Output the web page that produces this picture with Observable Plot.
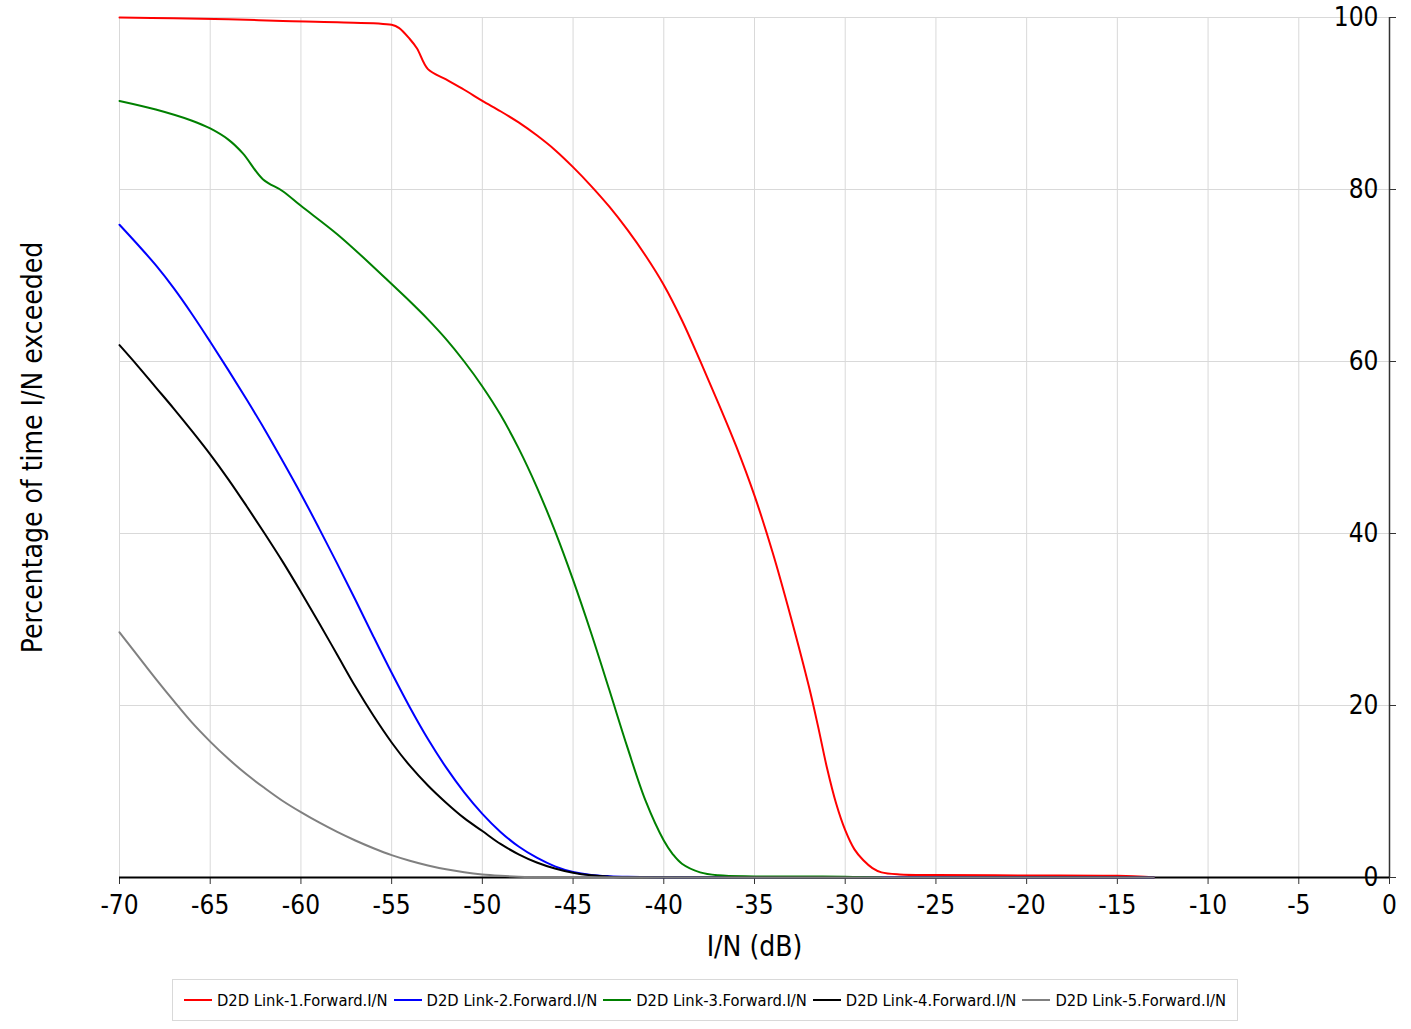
<!DOCTYPE html>
<html>
<head>
<meta charset="utf-8">
<script src="https://cdn.jsdelivr.net/npm/d3@7"></script>
<script src="https://cdn.jsdelivr.net/npm/@observablehq/plot@0.6"></script>
<style>
  body { margin: 0; background: #fff; }
  #chart svg { display: block; }
  .legend {
    margin-left: 172px; width: 1064px; height: 40px; margin-top: 4px;
    border: 1px solid #d9d9d9; display: flex; align-items: center; justify-content: center;
    font-family: "DejaVu Sans Condensed", "DejaVu Sans", sans-serif; font-size: 16.4px; color: #000;
  }
  .legend .item { display: flex; align-items: center; margin: 0 3px; }
  .legend .sw { width: 28px; height: 2px; margin-right: 5px; }
</style>
</head>
<body>
<div id="chart"></div>
<div class="legend" id="legend"></div>
<script>
// ---- data ----
const seriesNames = ["D2D Link-1.Forward.I/N", "D2D Link-2.Forward.I/N", "D2D Link-3.Forward.I/N", "D2D Link-4.Forward.I/N", "D2D Link-5.Forward.I/N"];
const seriesColors = ["#ff0000", "#0000ff", "#008000", "#000000", "#808080"];

const link1X = [-70,-67,-64,-61,-58,-55,-54.6,-54,-53.6,-53,-52,-51,-50,-49,-48,-47,-46,-45,-44,-43,-42,-41,-40,-39,-38,-37,-36,-35,-34,-33,-32,-31.5,-31,-30.5,-30,-29.5,-29,-28.5,-28,-27,-25,-20,-15,-13.5,-13];
const link1Y = [100,99.9,99.8,99.6,99.45,99.15,98.8,97.5,96.4,94.0,92.8,91.6,90.3,89.1,87.8,86.3,84.6,82.6,80.4,78,75.3,72.3,68.9,64.8,60.1,55.2,50.1,44.4,37.8,30.3,22.2,17.6,12.7,8.6,5.5,3.3,2,1.1,0.6,0.35,0.28,0.24,0.2,0.1,0];

const link2X = [-70,-69,-68,-67,-66,-65,-64,-63,-62,-61,-60,-59,-58,-57,-56,-55,-54,-53,-52,-51,-50,-49,-48,-47,-46,-45,-44,-43,-42,-40,-30,-13];
const link2Y = [75.9,73.6,71.2,68.5,65.5,62.3,59,55.6,52.1,48.4,44.6,40.6,36.5,32.3,28,23.8,19.8,16.1,12.8,9.9,7.4,5.3,3.6,2.3,1.3,0.65,0.3,0.15,0.08,0.04,0.02,0];

const link3X = [-70,-68,-66,-65,-64,-63.2,-62.1,-61,-60,-58,-56,-55,-54,-53,-52,-51,-50,-49,-48,-47,-46,-45,-44,-43,-42,-41,-40,-39.5,-39,-38,-37,-35,-30,-28];
const link3Y = [90.3,89.3,88,87.1,85.8,84.2,81.2,79.8,78.1,74.8,71,69,67,64.9,62.6,60,57.1,53.8,49.9,45.4,40.3,34.6,28.4,21.8,15.1,8.9,4.3,2.7,1.6,0.6,0.25,0.12,0.1,0];

const link4X = [-70,-69,-68,-67,-66,-65,-64,-63,-62,-61,-60,-59,-58,-57,-56,-55,-54,-53,-52,-51,-50,-49,-48,-47,-46,-45,-44,-43,-42,-13];
const link4Y = [61.9,59.5,57,54.5,51.9,49.2,46.3,43.2,40,36.7,33.2,29.6,25.9,22.2,18.8,15.7,13,10.7,8.7,6.9,5.4,3.9,2.7,1.75,1.05,0.55,0.25,0.1,0.04,0];

const link5X = [-70,-69,-68,-67,-66,-65,-64,-63,-62,-61,-60,-59,-58,-57,-56,-55,-54,-53,-52,-51,-50,-49,-48,-46,-13];
const link5Y = [28.5,25.8,23.1,20.5,18,15.8,13.8,12,10.4,8.9,7.6,6.4,5.3,4.3,3.4,2.6,1.95,1.4,0.95,0.6,0.35,0.2,0.1,0.04,0];

const xTicks = [-70,-65,-60,-55,-50,-45,-40,-35,-30,-25,-20,-15,-10,-5,0];
const yTicks = [0,20,40,60,80,100];
const xTitle = "I/N (dB)";
const yTitle = "Percentage of time I/N exceeded";

// ---- build ----
const allX = [link1X, link2X, link3X, link4X, link5X];
const allY = [link1Y, link2Y, link3Y, link4Y, link5Y];
const series = allX.map((xs, i) => xs.map((x, j) => ({x, y: allY[i][j], s: seriesNames[i]})));

const font = '"DejaVu Sans Condensed", "DejaVu Sans", sans-serif';

const chart = Plot.plot({
  width: 1411,
  height: 975,
  marginLeft: 119,
  marginRight: 22,
  marginTop: 17,
  marginBottom: 98,
  style: {fontFamily: font, fontSize: "26px", color: "#000", background: "#fff"},
  x: {domain: [-70, 0]},
  y: {domain: [0, 100]},
  marks: [
    Plot.gridX(xTicks, {stroke: "#d9d9d9", strokeOpacity: 1, strokeWidth: 1}),
    Plot.gridY(yTicks, {stroke: "#d9d9d9", strokeOpacity: 1, strokeWidth: 1}),
    Plot.axisX({ticks: xTicks, tickSize: 7, tickPadding: 11, tickFormat: d => `${d}`, label: null, stroke: "#333"}),
    Plot.axisY({anchor: "right", ticks: yTicks, tickSize: 6, tickPadding: -17, textAnchor: "end", tickFormat: d => `${d}`, label: null, stroke: "#333"}),
    Plot.ruleX([0], {stroke: "#333", strokeWidth: 1.5}),
    Plot.ruleY([0], {stroke: "#000", strokeWidth: 2}),
    ...series.map((d, i) => Plot.line(d, {x: "x", y: "y", stroke: seriesColors[i], strokeWidth: 2, curve: "catmull-rom"})),
    Plot.text([xTitle], {frameAnchor: "bottom", dy: 78, fontSize: 28, fill: "#000"}),
    Plot.text([yTitle], {frameAnchor: "left", dx: -86, rotate: -90, textAnchor: "middle", fontSize: 28, fill: "#000"})
  ]
});
document.getElementById("chart").appendChild(chart);

const legend = document.getElementById("legend");
seriesNames.forEach((name, i) => {
  const item = document.createElement("div");
  item.className = "item";
  const sw = document.createElement("div");
  sw.className = "sw";
  sw.style.background = seriesColors[i];
  const label = document.createElement("span");
  label.textContent = name;
  item.appendChild(sw);
  item.appendChild(label);
  legend.appendChild(item);
});
</script>
</body>
</html>
